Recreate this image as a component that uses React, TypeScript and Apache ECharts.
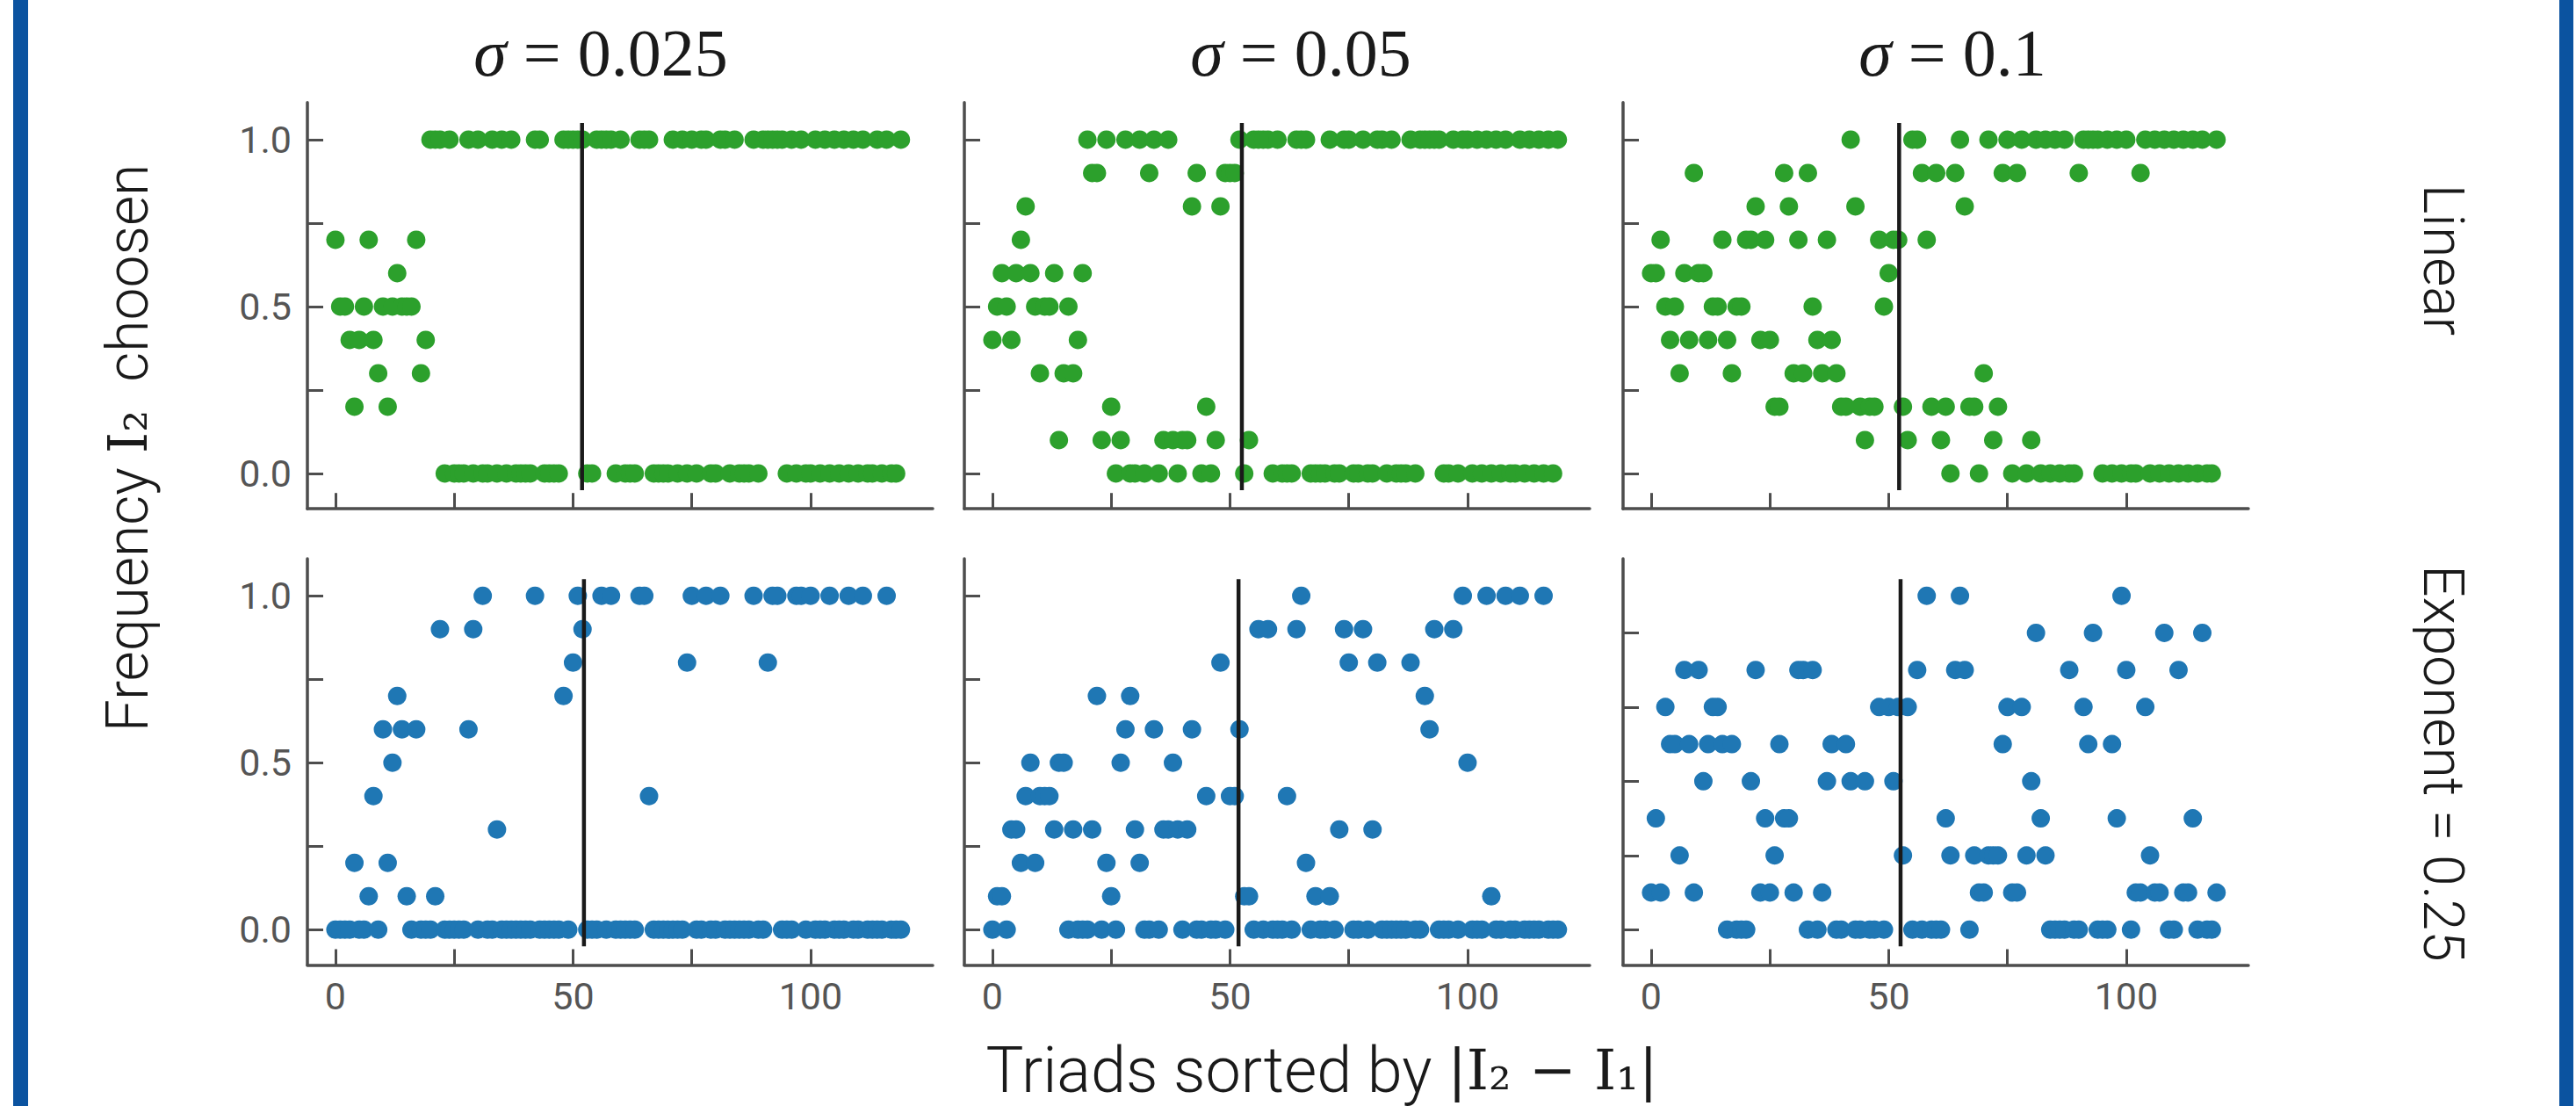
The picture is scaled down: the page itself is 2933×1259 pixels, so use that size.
import React, { useEffect, useRef } from "react";
import * as echarts from "echarts";

// ---------- DATA ----------
const COLUMN_TITLES = ["0.025", "0.05", "0.1"];
const ROW_LABELS = ["Linear", "Exponent = 0.25"];
const ROW_COLORS = ["#2ca02c", "#1f77b4"];

// Frequency of choosing I2 for triads sorted by |I2 - I1| (index = rank 0..119)
const LINEAR_S025 = [
  0.7, 0.5, 0.5, 0.4, 0.2, 0.4, 0.5, 0.7, 0.4, 0.3, 0.5, 0.2, 0.5, 0.6, 0.5, 0.5, 0.5, 0.7, 0.3, 0.4,
  1, 1, 1, 0, 1, 0, 0, 0, 1, 0, 1, 0, 0, 1, 0, 1, 0, 1, 0, 0, 0, 0, 1, 1, 0, 0, 0, 0,
  1, 1, 1, 1, 1, 0, 0, 1, 1, 1, 1, 0, 1, 0, 0, 0, 1, 1, 1, 0, 0, 0, 0,
  1, 0, 1, 0, 1, 0, 1, 1, 0, 0, 1, 1, 0, 1, 0, 0, 0, 1, 0,
  1, 1, 1, 1, 1,
  0, 1, 0, 1, 0, 0, 1, 0, 1, 0, 1, 0, 1, 0, 1, 0, 1, 0, 0, 1, 0, 1, 0, 0, 1,
];
const LINEAR_S05 = [
  0.4, 0.5, 0.6, 0.5, 0.4, 0.6, 0.7, 0.8, 0.6, 0.5, 0.3, 0.5, 0.5, 0.6, 0.1, 0.3, 0.5, 0.3, 0.4, 0.6,
  1, 0.9, 0.9, 0.1, 1, 0.2, 0, 0.1, 1, 0, 0, 1, 0, 0.9, 1, 0, 0.1, 1, 0.1, 0, 0.1, 0.1, 0.8, 0.9, 0, 0.2, 0, 0.1, 0.8, 0.9, 0.9, 0.9, 1, 0, 0.1,
  1, 1, 1, 1, 0, 1, 0, 0, 0, 1, 1, 1, 0, 0, 0, 0,
  1, 0, 0, 1, 1, 0, 0, 1, 0, 0, 1, 1, 0, 1, 0, 0, 0, 1, 0,
  1, 1, 1, 1, 1,
  0, 0, 1, 0, 1, 1, 0, 1, 0, 1, 0, 1, 0, 1, 0, 0, 1, 0, 1, 0, 1, 0, 1, 0, 1,
];
const LINEAR_S1 = [
  0.6, 0.6, 0.7, 0.5, 0.4, 0.5, 0.3, 0.6, 0.4, 0.9, 0.6, 0.6, 0.4, 0.5, 0.5, 0.7, 0.4, 0.3, 0.5, 0.5,
  0.7, 0.7, 0.8, 0.4, 0.7, 0.4, 0.2, 0.2, 0.9, 0.8, 0.3, 0.7, 0.3, 0.9, 0.5, 0.4, 0.3, 0.7, 0.4, 0.3,
  0.2, 0.2, 1, 0.8, 0.2, 0.1, 0.2, 0.2, 0.7, 0.5, 0.6, 0.7, 0.7, 0.2, 0.1, 1, 1, 0.9, 0.7, 0.2,
  0.9, 0.1, 0.2, 0, 0.9, 1, 0.8, 0.2, 0.2, 0, 0.3, 1, 0.1, 0.2, 0.9, 1, 0, 0.9, 1, 0,
  0.1, 1, 0, 1, 0, 1, 0, 1, 0, 0, 0.9, 1, 1, 1, 1, 0, 1, 0, 1, 0,
  1, 0, 0, 0.9, 1, 0, 1, 0, 1, 0, 1, 0, 1, 0, 1, 0, 1, 0, 0, 1,
];
const EXPONENT_S025 = [
  0, 0, 0, 0, 0.2, 0, 0, 0.1, 0.4, 0,
  0.6, 0.2, 0.5, 0.7, 0.6, 0.1, 0, 0.6, 0, 0,
  0, 0.1, 0.9, 0, 0, 0, 0, 0, 0.6, 0.9,
  0, 1, 0, 0, 0.3, 0, 0, 0, 0, 0,
  0, 0, 1, 0, 0, 0, 0, 0, 0.7, 0,
  0.8, 1, 0.9, 0, 0, 0, 1, 0, 1, 0,
  0, 0, 0, 0, 1, 1, 0.4, 0, 0, 0,
  0, 0, 0, 0, 0.8, 1, 0, 0, 1, 0,
  0, 1, 0, 0, 0, 0, 0, 0, 1, 0,
  0, 0.8, 1, 1, 0, 0, 0, 1, 1, 0,
  1, 0, 0, 0, 1, 0, 0, 0, 1, 0,
  0, 1, 0, 0, 0, 0, 1, 0, 0, 0,
];
const EXPONENT_S05 = [
  0, 0.1, 0.1, 0, 0.3, 0.3, 0.2, 0.4, 0.5, 0.2,
  0.4, 0.4, 0.4, 0.3, 0.5, 0.5, 0, 0.3, 0, 0,
  0, 0.3, 0.7, 0, 0.2, 0.1, 0, 0.5, 0.6, 0.7,
  0.3, 0.2, 0, 0, 0.6, 0, 0.3, 0.3, 0.5, 0.3,
  0, 0.3, 0.6, 0, 0, 0.4, 0, 0, 0.8, 0,
  0.4, 0.4, 0.6, 0.1, 0.1, 0, 0.9, 0, 0.9, 0,
  0, 0, 0.4, 0, 0.9, 1, 0.2, 0, 0.1, 0,
  0, 0.1, 0, 0.3, 0.9, 0.8, 0, 0, 0.9, 0,
  0.3, 0.8, 0, 0, 0, 0, 0, 0, 0.8, 0,
  0, 0.7, 0.6, 0.9, 0, 0, 0, 0.9, 0, 1,
  0.5, 0, 0, 0, 1, 0.1, 0, 0, 1, 0,
  0, 1, 0, 0, 0, 0, 1, 0, 0, 0,
];
// sigma = 0.1, exponent: counts out of 9 trials
const EXPONENT_S1_COUNTS = [
  1, 3, 1, 6, 5, 5, 2, 7, 5, 1,
  7, 4, 5, 6, 6, 5, 0, 5, 0, 0,
  0, 4, 7, 1, 3, 1, 2, 5, 3, 3,
  1, 7, 7, 0, 7, 0, 1, 4, 5, 0,
  0, 5, 4, 0, 0, 4, 0, 0, 6, 0,
  6, 4, 6, 2, 6, 0, 7, 0, 9, 0,
  0, 0, 3, 2, 7, 9, 7, 0, 2, 1,
  1, 2, 2, 2, 5, 6, 1, 1, 6, 2,
  4, 8, 3, 2, 0, 0, 0, 0, 7, 0,
  0, 6, 5, 8, 0, 0, 0, 5, 3, 9,
  7, 0, 1, 1, 6, 2, 1, 1, 8, 0,
  0, 7, 1, 1, 3, 0, 8, 0, 0, 1,
];
const EXPONENT_S1_TRIALS = 9;

// x position of the vertical marker in each panel [row][col]
const VLINE_X = [
  [51.9, 52.5, 52.2],
  [52.3, 51.8, 52.5],
];
const VLINE_Y = [-0.05, 1.05];

const X_TICKS = [0, 25, 50, 75, 100];
const X_LABELS = [0, 50, 100];
const Y_TICKS = [0, 0.25, 0.5, 0.75, 1];
const Y_TICKS_NINTHS = [0, 2, 4, 6, 8];
const Y_LABELS = [0, 0.5, 1];

// ---------- LAYOUT ----------
const W = 2933;
const H = 1259;
const COL_LEFT = [350, 1098, 1848];
const GRID_W = 712;
const ROW_TOP = [116.7, 636];
const GRID_H = 462.5;
const X_MIN = -5.9;
const X_MAX = 125.7;
const Y_MIN = -0.106;
const Y_MAX = 1.111;
const TITLE_X = [684, 1481, 2223];
const AXIS_COLOR = "#4d4d4d";
const TEXT_COLOR = "#1a1a1a";
const SANS = "Roboto, 'Open Sans', sans-serif";
const SERIF = "'Liberation Serif', 'DejaVu Serif', serif";

export default function App() {
  const ref = useRef<HTMLDivElement>(null);

  useEffect(() => {
    document.body.style.margin = "0";
    const chart = echarts.init(ref.current!, null, { renderer: "svg" });

    const panels: number[][][] = [
      [LINEAR_S025, LINEAR_S05, LINEAR_S1],
      [EXPONENT_S025, EXPONENT_S05, EXPONENT_S1_COUNTS.map((c) => c / EXPONENT_S1_TRIALS)],
    ];

    const grid: any[] = [];
    const xAxis: any[] = [];
    const yAxis: any[] = [];
    const series: any[] = [];

    for (let r = 0; r < 2; r++) {
      for (let c = 0; c < 3; c++) {
        const g = r * 3 + c;
        grid.push({ left: COL_LEFT[c], top: ROW_TOP[r], width: GRID_W, height: GRID_H, containLabel: false });
        xAxis.push({
          type: "value",
          gridIndex: g,
          min: X_MIN,
          max: X_MAX,
          axisLine: { show: true, onZero: false, lineStyle: { color: AXIS_COLOR, width: 3.5 } },
          axisTick: {
            show: true,
            inside: true,
            length: 18,
            customValues: X_TICKS,
            lineStyle: { color: AXIS_COLOR, width: 3 },
          },
          axisLabel: {
            show: r === 1,
            customValues: X_LABELS,
            margin: 14,
            fontSize: 43,
            fontFamily: SANS,
            color: "#555555",
          },
          splitLine: { show: false },
        });
        const ninths = r === 1 && c === 2;
        yAxis.push({
          type: "value",
          gridIndex: g,
          min: Y_MIN,
          max: Y_MAX,
          axisLine: { show: true, onZero: false, lineStyle: { color: AXIS_COLOR, width: 3.5 } },
          axisTick: {
            show: true,
            inside: true,
            length: 18,
            customValues: ninths ? Y_TICKS_NINTHS.map((k) => k / EXPONENT_S1_TRIALS) : Y_TICKS,
            lineStyle: { color: AXIS_COLOR, width: 3 },
          },
          axisLabel: {
            show: c === 0,
            customValues: Y_LABELS,
            margin: 18,
            fontSize: 43,
            fontFamily: SANS,
            color: "#555555",
            formatter: (v: number) => v.toFixed(1),
          },
          splitLine: { show: false },
        });
        series.push({
          type: "scatter",
          xAxisIndex: g,
          yAxisIndex: g,
          symbol: "circle",
          symbolSize: 21,
          itemStyle: { color: ROW_COLORS[r], opacity: 1 },
          data: panels[r][c].map((v, i) => [i, v]),
          z: 2,
          silent: true,
        });
        series.push({
          type: "line",
          xAxisIndex: g,
          yAxisIndex: g,
          symbol: "none",
          lineStyle: { color: TEXT_COLOR, width: 4.5 },
          data: VLINE_Y.map((y) => [VLINE_X[r][c], y]),
          z: 5,
          silent: true,
        });
      }
    }

    const graphic: any[] = [
      { type: "rect", shape: { x: 15, y: 0, width: 17, height: H }, style: { fill: "#0b53a0" } },
      { type: "rect", shape: { x: 2914, y: 0, width: 16, height: H }, style: { fill: "#0b53a0" } },
    ];
    COLUMN_TITLES.forEach((t, c) => {
      graphic.push({
        type: "text",
        x: TITLE_X[c],
        y: 60,
        style: {
          text: "{i|σ}{r| = " + t + "}",
          align: "center",
          verticalAlign: "middle",
          rich: {
            i: { fontFamily: SERIF, fontStyle: "italic", fontSize: 76, fill: TEXT_COLOR },
            r: { fontFamily: SERIF, fontSize: 76, fill: TEXT_COLOR },
          },
        },
      });
    });
    const rowCenters = [296, 869];
    ROW_LABELS.forEach((t, r) => {
      graphic.push({
        type: "text",
        x: 2781,
        y: rowCenters[r],
        rotation: -Math.PI / 2,
        style: {
          text: t,
          align: "center",
          verticalAlign: "middle",
          fontFamily: SANS,
          fontWeight: 300,
          fontSize: 64,
          fill: TEXT_COLOR,
        },
      });
    });
    graphic.push({
      type: "text",
      x: 145,
      y: 510,
      rotation: Math.PI / 2,
      style: {
        text: "{a|Frequency }{m|I₂}{a|  choosen}",
        align: "center",
        verticalAlign: "middle",
        rich: {
          a: { fontFamily: SANS, fontWeight: 300, fontSize: 66, fill: TEXT_COLOR },
          m: { fontFamily: "'DejaVu Serif', serif", fontSize: 62, fill: TEXT_COLOR },
        },
      },
    });
    graphic.push({
      type: "text",
      x: 1505,
      y: 1218,
      style: {
        text: "{a|Triads sorted by }{m||I₂ − I₁|}",
        align: "center",
        verticalAlign: "middle",
        rich: {
          a: { fontFamily: SANS, fontWeight: 300, fontSize: 72, lineHeight: 74, fill: TEXT_COLOR },
          m: { fontFamily: "'DejaVu Serif', serif", fontSize: 64, lineHeight: 74, fill: TEXT_COLOR },
        },
      },
    });

    chart.setOption({
      animation: false,
      backgroundColor: "#ffffff",
      grid,
      xAxis,
      yAxis,
      series,
      graphic,
    });

    return () => chart.dispose();
  }, []);

  return (
    <div
      ref={ref}
      style={{ position: "fixed", left: 0, top: 0, width: W, height: H, background: "#fff" }}
    />
  );
}
